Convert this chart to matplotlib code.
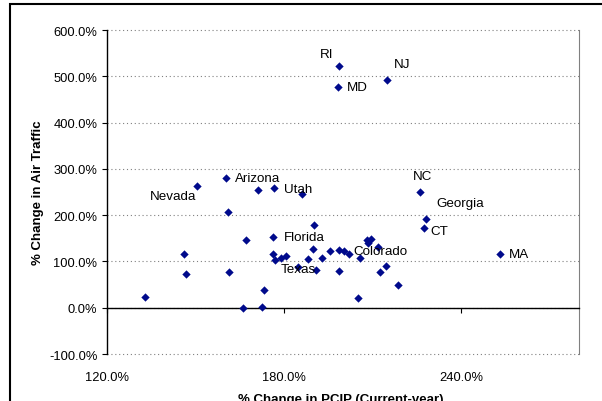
import numpy as np
import matplotlib
matplotlib.use('Agg')
import matplotlib.pyplot as plt
from matplotlib.ticker import FuncFormatter, FixedLocator
from matplotlib.patches import Rectangle

plt.rcParams['font.family'] = ['Liberation Sans', 'DejaVu Sans']

# Estados con etiqueta
nombres = ['Nevada', 'Arizona', 'Utah', 'Florida', 'Texas', 'Colorado',
           'RI', 'MD', 'NJ', 'NC', 'Georgia', 'CT', 'MA']
pcip_lab = [150.6, 160.4, 176.7, 176.4, 184.8, 202.2,
            198.8, 198.2, 215.0, 226.1, 228.1, 227.3, 253.2]
aire_lab = [264, 281, 258, 153.5, 88, 115,
            522, 476, 493, 249, 192, 172, 117]

# Resto de los estados (sin etiqueta)
pcip_otros = [132.9, 161.1, 167.1, 146.2, 146.9, 161.5, 166.0, 171.3, 186.2, 190.0,
              176.4, 177.1, 178.9, 180.8, 189.7, 188.0, 192.9, 195.6, 198.5, 200.5,
              190.8, 198.5, 173.3, 172.6, 205.2, 205.8, 208.0, 209.5, 208.6, 211.7,
              214.6, 212.7, 218.8]
aire_otros = [24, 207, 147, 117, 72, 77, -1, 254, 245, 179,
              115, 103, 107, 112, 126, 106, 107, 122, 124, 122,
              81, 80, 38, 2, 20, 107, 146, 149, 140, 132,
              91, 77, 49]

# offsets de cada etiqueta en pixeles (dx, dy, alineacion)
offs = {
    'Nevada': (-24, -10, 'center'),
    'Arizona': (9, 0, 'left'),
    'Utah': (10, -1, 'left'),
    'Florida': (10, 0, 'left'),
    'Texas': (0, -2, 'center'),
    'Colorado': (4, 3, 'left'),
    'RI': (-13, 12, 'center'),
    'MD': (9, 0, 'left'),
    'NJ': (15, 16, 'center'),
    'NC': (3, 16, 'center'),
    'Georgia': (34, 16, 'center'),
    'CT': (16, -3, 'center'),
    'MA': (9, 0, 'left'),
}

W, H = 602, 402
fig = plt.figure(figsize=(W / 100, H / 100), dpi=100)
fig.patch.set_facecolor('white')
ax = fig.add_axes([107 / W, 1 - 355 / H, 472 / W, 324 / H])

azul = '#000A8C'
ax.scatter(pcip_otros, aire_otros, marker='D', s=18, color=azul, zorder=3, linewidths=0)
ax.scatter(pcip_lab, aire_lab, marker='D', s=18, color=azul, zorder=3, linewidths=0)

for n, x, y in zip(nombres, pcip_lab, aire_lab):
    dx, dy, ha = offs[n]
    ax.annotate(n, (x, y), xytext=(dx, dy), textcoords='offset pixels',
                ha=ha, va='center', fontsize=9.6, color='black', zorder=4)

ax.set_xlim(120, 280)
ax.set_ylim(-100, 600)

# ejes
ax.yaxis.set_major_locator(FixedLocator(np.arange(-100, 601, 100)))
ax.yaxis.set_major_formatter(FuncFormatter(lambda v, p: f'{v:.1f}%'))
ax.yaxis.grid(True, color='#808080', linestyle=(0, (1, 2.5)), linewidth=0.8)
for gl in ax.yaxis.get_gridlines():
    gl.set_clip_on(False)
ax.set_axisbelow(True)
ax.tick_params(axis='y', direction='out', length=3.5, width=0.8, pad=3.5,
               labelsize=9.3, color='black')

ax.spines['top'].set_visible(False)
ax.spines['right'].set_color('#808080')
ax.spines['right'].set_linewidth(0.8)
ax.spines['left'].set_color('black')
ax.spines['left'].set_linewidth(1.0)
# eje x cruza en 0
ax.spines['bottom'].set_position(('data', 0))
ax.spines['bottom'].set_color('black')
ax.spines['bottom'].set_linewidth(1.0)
ax.xaxis.set_major_locator(FixedLocator([120, 180, 240]))
ax.tick_params(axis='x', direction='out', length=3.5, width=0.8, labelbottom=False)

# etiquetas del eje x abajo del grafico
sec = ax.secondary_xaxis('bottom')
sec.xaxis.set_major_locator(FixedLocator([120, 180, 240]))
sec.xaxis.set_major_formatter(FuncFormatter(lambda v, p: f'{v:.1f}%'))
sec.spines['bottom'].set_visible(False)
sec.tick_params(length=0, pad=12.5, labelsize=9.3)

fig.text(38 / W, 1 - 193 / H, '% Change in Air Traffic', rotation=90,
         ha='center', va='center', fontsize=9.5, fontweight='bold')
fig.text(341 / W, 1 - 394 / H, '% Change in PCIP (Current-year)',
         ha='center', va='top', fontsize=9.5, fontweight='bold')

# marco del area del grafico
fig.patches.append(Rectangle((10 / W, -0.2), 1.5, 1.2 - 5 / H, transform=fig.transFigure,
                             fill=False, edgecolor='black', linewidth=1.5, figure=fig))

fig.savefig('out.png', dpi=100, facecolor='white')
